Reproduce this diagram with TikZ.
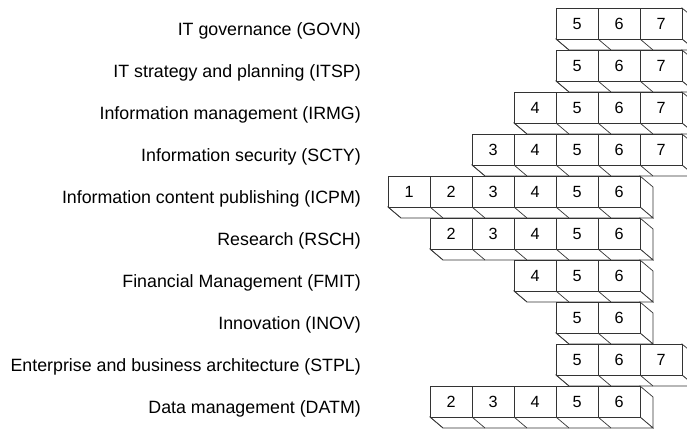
\documentclass[tikz,border=0pt]{standalone}
\usepackage{fontspec}
\setmainfont{Liberation Sans}
\begin{document}
\begin{tikzpicture}[x=1pt,y=-1pt,
    face/.style={draw=black!80,fill=white,line width=0.7pt},
    skill/.style={anchor=base east,inner sep=0pt,font=\fontsize{17.8}{20}\selectfont},
    level/.style={anchor=base,inner sep=0pt,font=\fontsize{16.2}{18}\selectfont}]
    \useasboundingbox (0,0) rectangle (687,428);
    \foreach \code/\skillname/\lo/\hi [count=\r] in {
        GOVN/IT governance/5/7,
        ITSP/IT strategy and planning/5/7,
        IRMG/Information management/4/7,
        SCTY/Information security/3/7,
        ICPM/Information content publishing/1/6,
        RSCH/Research/2/6,
        FMIT/Financial Management/4/6,
        INOV/Innovation/5/6,
        STPL/Enterprise and business architecture/5/7,
        DATM/Data management/2/6}{
        \pgfmathsetmacro{\ytop}{8+42*(\r-1)}
        \pgfmathsetmacro{\xl}{388+42*(\lo-1)}
        \pgfmathsetmacro{\xr}{388+42*\hi}
        \node[skill] (lbl-\code) at (361,\ytop+27.5) {\skillname\ (\code)};
        % side and bottom of the bar
        \draw[face] (\xr,\ytop) -- ++(13,11) -- ++(0,31) -- ++(-13,-11) -- cycle;
        \draw[face] (\xl,\ytop+31) -- ++(13,11) -- (\xr+13,\ytop+42) -- (\xr,\ytop+31) -- cycle;
        \foreach \c in {\lo,...,\hi}{
            \draw[face] ({388+42*(\c-1)},\ytop) rectangle ++(42,31);
            \draw[face] ({388+42*(\c-1)},\ytop+31) -- ++(13,11);
            \node[level] (\code-\c) at ({388+42*(\c-0.5)},\ytop+21.3) {\c};
        }
    }
\end{tikzpicture}
\end{document}
